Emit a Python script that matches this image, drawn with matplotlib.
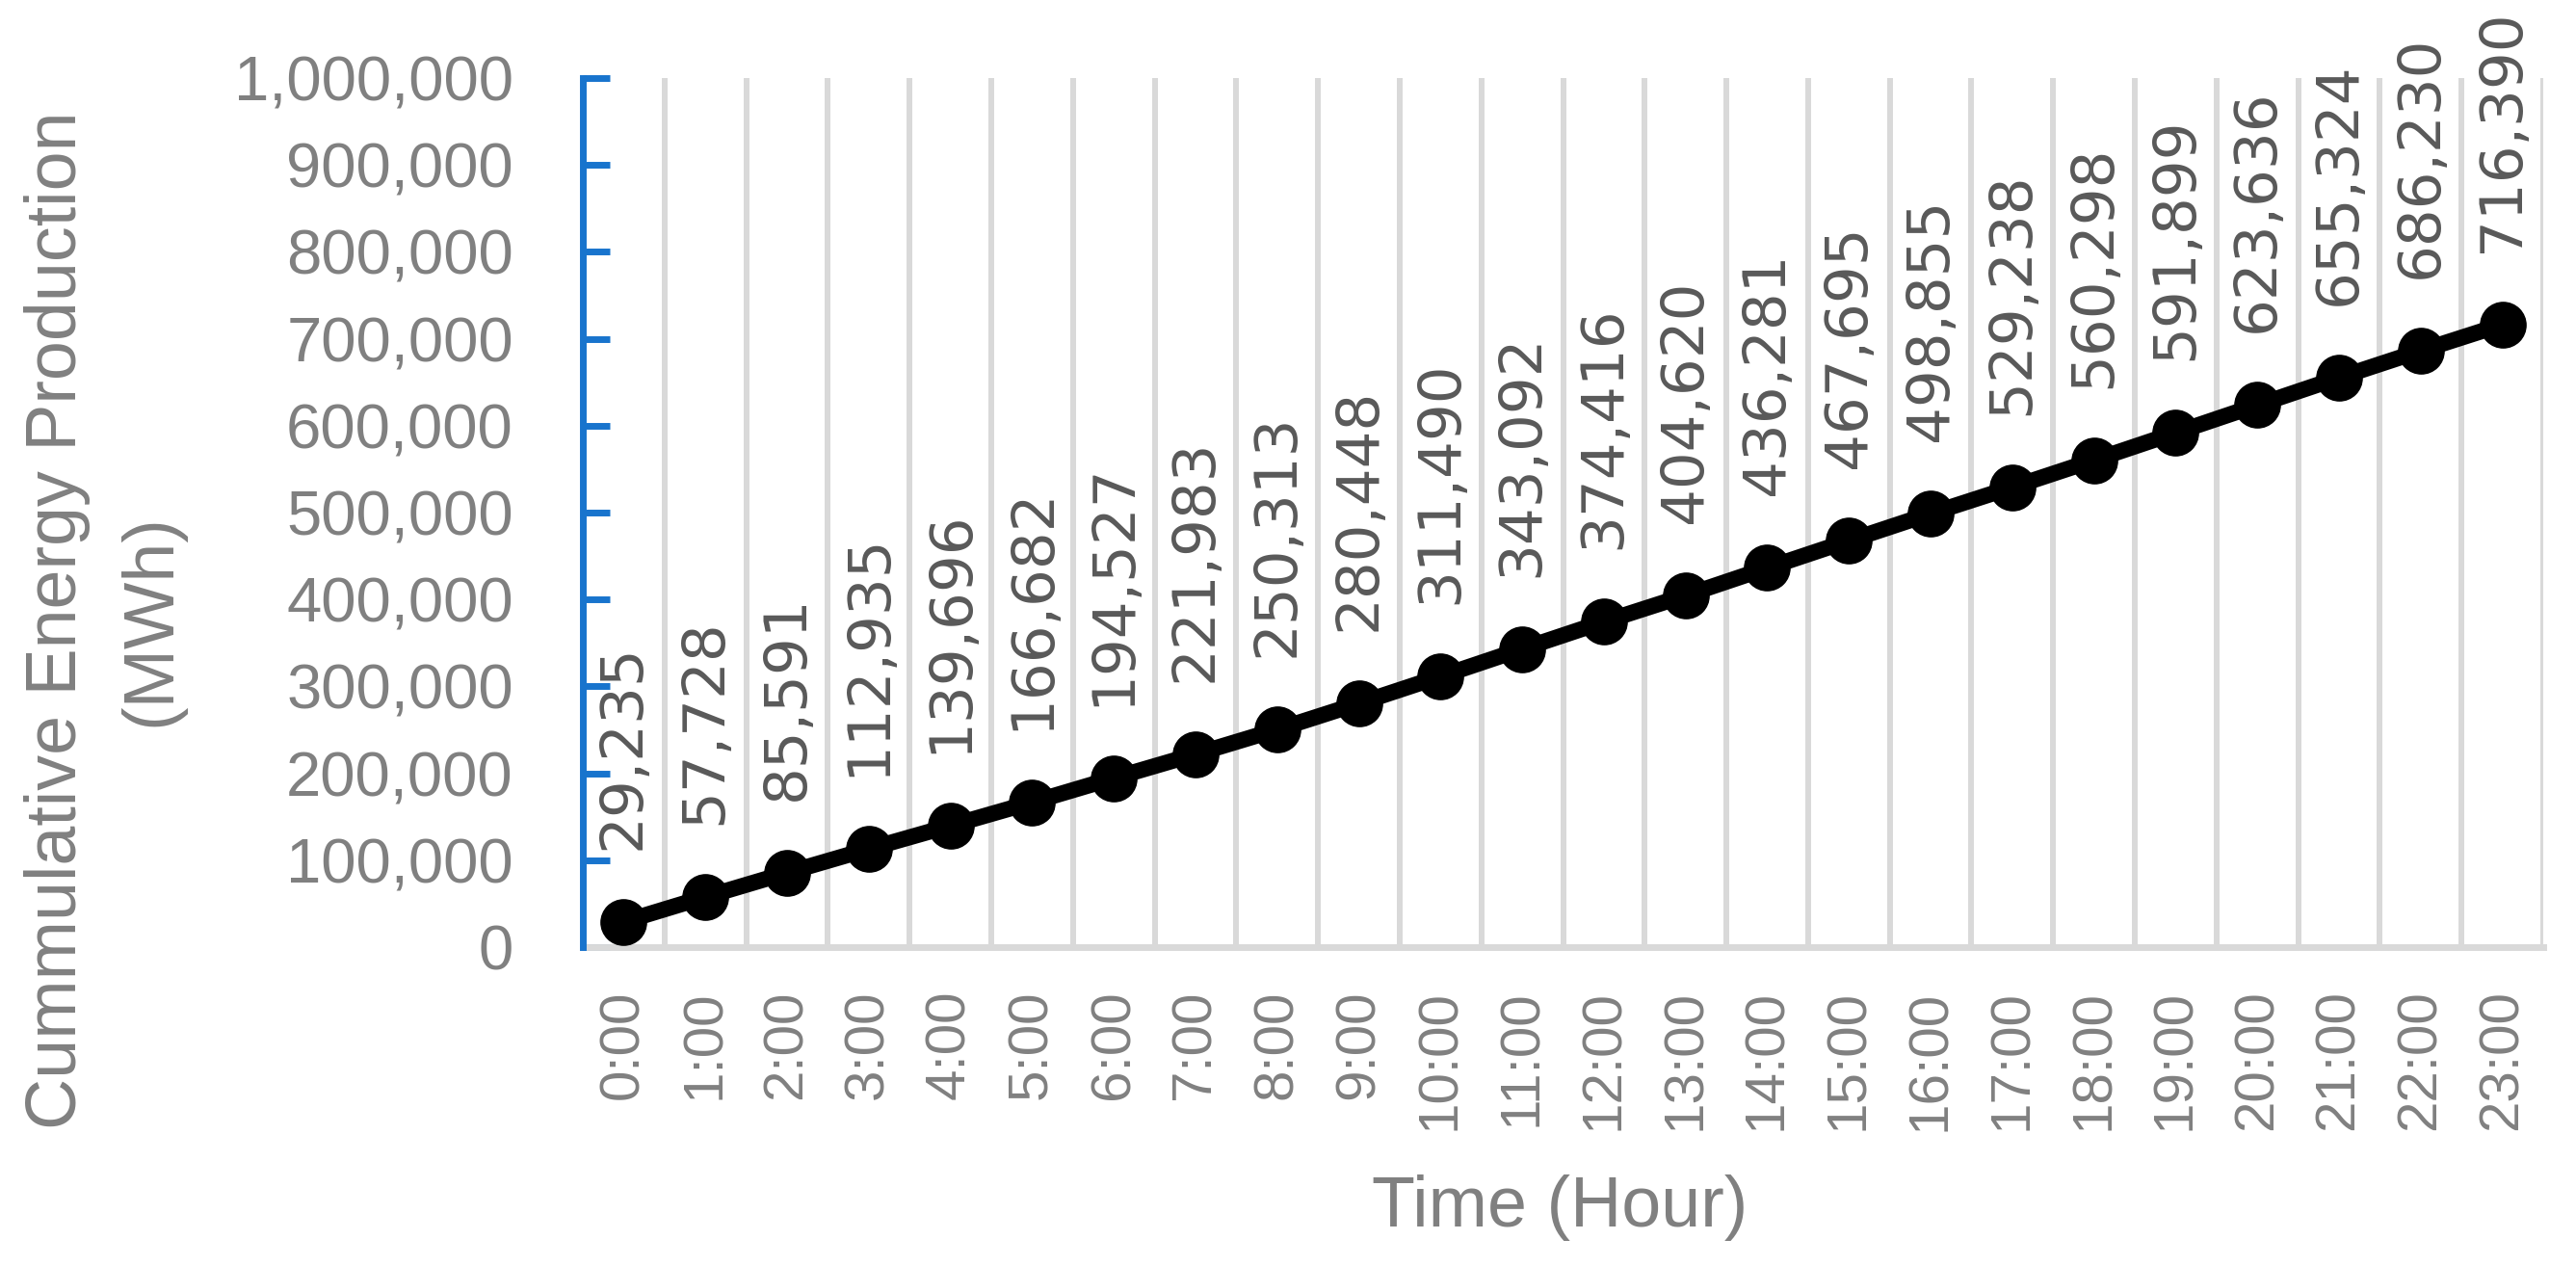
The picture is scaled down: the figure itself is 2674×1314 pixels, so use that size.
import matplotlib
matplotlib.use("Agg")
import matplotlib.pyplot as plt
from matplotlib.ticker import FuncFormatter, MultipleLocator

hours = [f"{h}:00" for h in range(24)]
cumulative_mwh = [29235, 57728, 85591, 112935, 139696, 166682, 194527, 221983,
                  250313, 280448, 311490, 343092, 374416, 404620, 436281, 467695,
                  498855, 529238, 560298, 591899, 623636, 655324, 686230, 716390]
y_label_lines = ["Cummulative Energy Production", "(MWh)"]
x_label = "Time (Hour)"

W, H, DPI = 2674, 1314, 100
fig = plt.figure(figsize=(W / DPI, H / DPI), dpi=DPI)
fig.patch.set_facecolor("white")

L, R, T, B = 605, 2640, 81, 983
ax = fig.add_axes([L / W, 1 - B / H, (R - L) / W, (B - T) / H])

tick_font = ["Liberation Sans", "DejaVu Sans"]
label_font = ["Liberation Sans", "DejaVu Sans"]

x = list(range(len(hours)))
ax.plot(x, cumulative_mwh, color="black", lw=12, marker="o", ms=34,
        markerfacecolor="black", markeredgecolor="black", zorder=5, clip_on=False)

for xi, v in zip(x, cumulative_mwh):
    ax.annotate(f"{v:,}", (xi, v), xytext=(0, 54), textcoords="offset points",
                rotation=90, ha="center", va="bottom", fontsize=44,
                color="#595959", family="DejaVu Sans", annotation_clip=False,
                zorder=6)

ax.set_xlim(-0.5, len(hours) - 0.5)
ax.set_ylim(0, 1_000_000)
ax.yaxis.set_major_locator(MultipleLocator(100_000))
ax.yaxis.set_major_formatter(FuncFormatter(lambda v, p: f"{int(v):,}"))
ax.set_xticks(x)
ax.set_xticklabels(hours, rotation=90)

# vertical gridlines at category boundaries
for k in range(1, len(hours) + 1):
    ax.axvline(k - 0.5, color="#d9d9d9", lw=4.3, zorder=1)

for s in ["top", "right"]:
    ax.spines[s].set_visible(False)
ax.spines["left"].set_color("#1874CD")
ax.spines["left"].set_linewidth(5)
ax.spines["bottom"].set_color("#d9d9d9")
ax.spines["bottom"].set_linewidth(5)
ax.spines["left"].set_zorder(7)

ax.tick_params(axis="y", direction="in", length=20, width=5, color="#1874CD",
               labelsize=47, labelcolor="#808080", pad=52)
ax.tick_params(axis="x", length=0, labelsize=42, labelcolor="#808080", pad=32)
for lab in ax.get_yticklabels() + ax.get_xticklabels():
    lab.set_family(tick_font)

fig.text(60 / W, 1 - 644 / H, y_label_lines[0], rotation=90, ha="center",
         va="center", fontsize=53, color="#808080", family=label_font)
fig.text(157 / W, 1 - 644 / H, y_label_lines[1], rotation=90, ha="center",
         va="center", fontsize=53, color="#808080", family=label_font)
fig.text(1619 / W, 1 - 1253 / H, x_label, ha="center", va="center",
         fontsize=53, color="#808080", family=label_font)

fig.savefig("out.png", dpi=DPI, facecolor="white")
